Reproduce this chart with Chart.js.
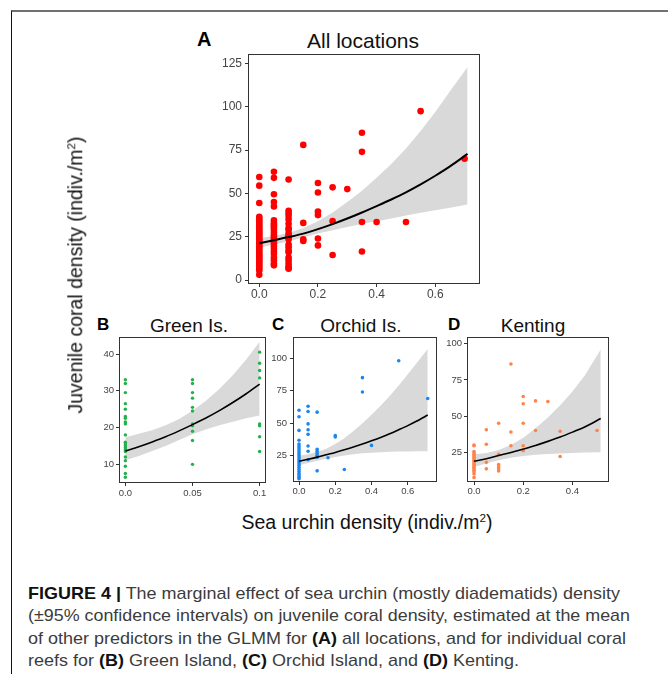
<!DOCTYPE html>
<html>
<head>
<meta charset="utf-8">
<script src="https://cdn.jsdelivr.net/npm/chart.js@4.4.0/dist/chart.umd.min.js"></script>
<style>
  body { margin: 0; background: #fff; }
  #page { position: relative; width: 668px; height: 674px; overflow: hidden; font-family: "Liberation Sans", Arial, sans-serif; }
  .frame { position: absolute; left: 11px; top: 10px; right: -4px; bottom: -4px; border-top: 2px solid #707070; border-left: 1px solid #111; }
  .panel { position: absolute; }
  .lab { position: absolute; transform: translate(-50%, -50%); line-height: 1; white-space: nowrap; color: #111; }
  .letter { position: absolute; transform: translateY(-50%); font-weight: bold; line-height: 1; color: #000; }
  .ytitle { position: absolute; left: 76px; top: 275px; transform: translate(-50%, -50%) rotate(-90deg); font-size: 19.5px; line-height: 1; white-space: nowrap; color: #111; }
  sup { font-size: 0.6em; vertical-align: 0; position: relative; top: -0.6em; }
  .cap { position: absolute; left: 28px; white-space: nowrap; font-family: "Liberation Sans Narrow", "Liberation Sans", Arial, sans-serif; font-size: 17px; line-height: 1; color: #3c3c3c; transform-origin: 0 50%; }
  .cap b { color: #111; }
</style>
</head>
<body>
<div id="page">
  <div class="frame"></div>

  <div class="letter" style="left:197px;top:39px;font-size:20px">A</div>
  <div class="lab" style="left:363px;top:40px;font-size:21px">All locations</div>
  <div class="letter" style="left:97px;top:324px;font-size:17px">B</div>
  <div class="lab" style="left:189px;top:325px;font-size:19px">Green Is.</div>
  <div class="letter" style="left:272px;top:324px;font-size:17px">C</div>
  <div class="lab" style="left:361px;top:325px;font-size:19px">Orchid Is.</div>
  <div class="letter" style="left:448px;top:324px;font-size:17px">D</div>
  <div class="lab" style="left:533px;top:325px;font-size:19px">Kenting</div>

  <div class="panel" id="pA"><canvas id="cA"></canvas></div>
  <div class="panel" id="pB"><canvas id="cB"></canvas></div>
  <div class="panel" id="pC"><canvas id="cC"></canvas></div>
  <div class="panel" id="pD"><canvas id="cD"></canvas></div>

  <div class="ytitle">Juvenile coral density (indiv./m<sup>2</sup>)</div>
  <div class="lab" style="left:367px;top:523px;font-size:19.5px">Sea urchin density (indiv./m<sup>2</sup>)</div>

  <div class="cap" style="top:585px"><b>FIGURE 4 |</b> The marginal effect of sea urchin (mostly diadematids) density</div>
  <div class="cap" style="top:607px">(±95% confidence intervals) on juvenile coral density, estimated at the mean</div>
  <div class="cap" style="top:630px">of other predictors in the GLMM for <b>(A)</b> all locations, and for individual coral</div>
  <div class="cap" style="top:652px">reefs for <b>(B)</b> Green Island, <b>(C)</b> Orchid Island, and <b>(D)</b> Kenting.</div>
</div>

<script>
// A - all locations
const aColX = [0, 0.05, 0.1, 0.15, 0.2, 0.25, 0.3, 0.35, 0.4, 0.5, 0.55, 0.7];
const aColY = [
  [59.5, 54.5, 44.5, 36.5, 35.5, 34.5, 33.5, 32.5, 31.5, 30.5, 29.5, 28.5, 27.5, 26.5, 25.5, 24.5, 23.5, 22.5, 21.5, 20.5, 19.5, 18.5, 17.5, 16.5, 15.5, 14.5, 13.5, 12.5, 11.5, 10.5, 9.5, 8.5, 7.5, 6.5, 5.5, 3],
  [62.5, 59, 49.5, 45, 42.5, 34.5, 33, 32, 31, 30, 29, 27.5, 26, 25, 24, 23, 22, 21, 19.5, 18, 16.5, 15, 13, 11.5, 9.5, 8.5],
  [58, 40, 38.5, 37, 35, 32.5, 30, 29, 27, 25.5, 25, 23.5, 20.5, 19, 17, 16, 13, 11.5, 9.5, 8, 7, 6.5],
  [78, 33, 23.5, 22.5],
  [56, 50.5, 39.5, 37.5, 24, 20],
  [53.5, 34, 14.5],
  [52.5],
  [85, 74, 33.5, 16.5],
  [33.5],
  [33.5],
  [97.5],
  [70]
];
const aFitX = [0, 0.05, 0.1, 0.15, 0.2, 0.25, 0.3, 0.35, 0.4, 0.45, 0.5, 0.55, 0.6, 0.65, 0.71];
const aFitY = [21.3, 23, 24.8, 26.8, 29.4, 32.3, 35.5, 39, 42.7, 46.5, 50.6, 55.2, 60.2, 65.6, 72.8];
const aUpper = [24.2, 25.5, 27.2, 30, 34, 39, 45, 51.5, 59, 67, 76, 86, 97, 109, 123];
const aLower = [18.6, 20.5, 22.3, 24.5, 26.8, 28.8, 30.6, 32.3, 34, 35.6, 37.2, 38.8, 40.3, 41.8, 43.6];
const aXTicks = [0, 0.2, 0.4, 0.6];
const aXLabels = ['0.0', '0.2', '0.4', '0.6'];
const aYTicks = [0, 25, 50, 75, 100, 125];

// B - Green Is.
const bColX = [0, 0.05, 0.1];
const bColY = [
  [33, 32, 29.5, 26.5, 25, 23, 22.5, 21.5, 21, 18, 16, 15.5, 15, 14.5, 14, 13.5, 12, 11, 9.5, 7.5, 6.5],
  [33, 32, 29.5, 28, 25.5, 24.5, 21, 20.5, 19, 16.5, 10],
  [40.5, 37.5, 35.5, 33.5, 21, 20.5, 17.5, 13.5]
];
const bFitX = [0, 0.01, 0.02, 0.03, 0.04, 0.05, 0.06, 0.07, 0.08, 0.09, 0.1];
const bFitY = [13.6, 14.8, 16.1, 17.5, 19.1, 20.8, 22.6, 24.6, 26.8, 29.2, 31.8];
const bUpper = [17.4, 18.3, 19.3, 20.6, 22.3, 24.6, 27.3, 30.5, 34.2, 38.5, 43.3];
const bLower = [11.1, 12.3, 13.6, 15, 16.6, 18.2, 19.5, 20.6, 21.6, 22.5, 23.3];
const bXTicks = [0, 0.05, 0.1];
const bXLabels = ['0.0', '0.05', '0.1'];
const bYTicks = [10, 20, 30, 40];

// C - Orchid Is.
const cColX = [0, 0.05, 0.1, 0.16, 0.2, 0.25, 0.35, 0.4, 0.55, 0.71];
const cColY = [
  [60, 55, 44.5, 37, 34, 32.5, 31, 29.5, 28, 26.5, 25, 23.5, 22, 20.5, 19, 17.5, 16, 14.5, 13, 11.5, 10, 8.5, 7.5],
  [63, 59, 49.5, 45, 41.5, 32.5, 28.5, 22],
  [58.5, 30, 28.5, 27, 25.5, 24, 13.5],
  [23.5],
  [40.5, 39.5],
  [14.5],
  [85, 74],
  [33],
  [98],
  [69]
];
const cFitX = [0, 0.05, 0.1, 0.15, 0.2, 0.25, 0.3, 0.35, 0.4, 0.45, 0.5, 0.55, 0.6, 0.65, 0.71];
const cFitY = [20.9, 22.4, 24, 25.8, 27.6, 29.6, 31.7, 34, 36.5, 39.1, 41.9, 45, 48.2, 51.7, 56.3];
const cUpper = [25, 26.3, 28, 30.5, 34, 38.5, 44, 50, 56.5, 63.5, 71, 79, 87.5, 96.5, 107];
const cLower = [17.8, 19.5, 21.2, 22.8, 24.2, 25.3, 26.2, 26.9, 27.4, 27.8, 28.1, 28.3, 28.4, 28.5, 28.6];
const cXTicks = [0, 0.2, 0.4, 0.6];
const cXLabels = ['0.0', '0.2', '0.4', '0.6'];
const cYTicks = [25, 50, 75, 100];

// D - Kenting
const dColX = [0, 0.05, 0.1, 0.15, 0.2, 0.25, 0.3, 0.35, 0.5];
const dColY = [
  [30, 29.5, 25.5, 24.5, 23.5, 22.5, 21.5, 20.5, 19.5, 18.5, 17.5, 16.5, 15.5, 14.5, 13.5, 12.5, 11.5, 10, 7.5],
  [40.5, 30.5, 18, 13.5],
  [45, 23.5, 16.5, 15, 13.5, 12],
  [86, 39, 29.5],
  [63.5, 58.5, 45, 29.5, 26],
  [60.5, 40],
  [60],
  [39.5, 22],
  [40]
];
const dFitX = [0, 0.05, 0.1, 0.15, 0.2, 0.25, 0.3, 0.35, 0.4, 0.45, 0.515];
const dFitY = [18.8, 20.5, 22.7, 24.8, 27.2, 29.7, 32.5, 35.5, 38.9, 42.5, 48.3];
const dUpper = [23.4, 24.5, 26.5, 30, 35, 41.5, 49, 57.5, 67, 78, 96];
const dLower = [14.8, 17.3, 19.5, 21.2, 22.4, 23.2, 23.8, 24.2, 24.5, 24.8, 25];
const dXTicks = [0, 0.2, 0.4];
const dXLabels = ['0.0', '0.2', '0.4'];
const dYTicks = [25, 50, 75, 100];

// outline round the plot area, like the ggplot panel border
const boxPlugin = {
  id: 'panelBox',
  afterDraw(chart) {
    const a = chart.chartArea;
    const ctx = chart.ctx;
    ctx.save();
    ctx.strokeStyle = '#333';
    ctx.lineWidth = 1;
    ctx.strokeRect(Math.round(a.left) - 0.5, Math.round(a.top) - 0.5, Math.round(a.right - a.left) + 1, Math.round(a.bottom - a.top) + 1);
    ctx.restore();
  }
};

function pairs(xs, ys) {
  return xs.map((x, i) => ({ x: x, y: ys[i] }));
}

function makePanel(p) {
  const m = p.margin;
  const w = m.left + (p.box.R - p.box.L) + m.right;
  const h = m.top + (p.box.B - p.box.T) + m.bottom;
  const div = document.getElementById(p.div);
  div.style.left = (p.box.L - m.left) + 'px';
  div.style.top = (p.box.T - m.top) + 'px';
  const cv = document.getElementById(p.canvas);
  cv.width = w;
  cv.height = h;

  const pts = [];
  p.colX.forEach((x, i) => p.colY[i].forEach(y => pts.push({ x: x, y: y })));

  const tickFont = { family: '"Liberation Sans", Arial, sans-serif', size: p.tickSize };
  const grid = { display: true, drawOnChartArea: false, drawTicks: true, tickLength: 4, color: '#333', lineWidth: 1 };

  return new Chart(cv, {
    type: 'scatter',
    data: {
      datasets: [
        { type: 'line', data: pairs(p.fitX, p.lower), borderColor: 'rgba(0,0,0,0)', borderWidth: 0, pointRadius: 0, fill: false, order: 3 },
        { type: 'line', data: pairs(p.fitX, p.upper), borderColor: 'rgba(0,0,0,0)', borderWidth: 0, pointRadius: 0, fill: '-1', backgroundColor: '#d9d9d9', order: 2 },
        { data: pts, backgroundColor: p.color, borderWidth: 0, pointRadius: p.radius, order: 1 },
        { type: 'line', data: pairs(p.fitX, p.fitY), borderColor: '#000', borderWidth: p.lineWidth, pointRadius: 0, fill: false, tension: 0.3, order: 0 }
      ]
    },
    options: {
      responsive: false,
      animation: false,
      devicePixelRatio: 1,
      layout: { padding: { left: 0, top: m.top, right: m.right, bottom: 0 } },
      plugins: { legend: { display: false }, tooltip: { enabled: false } },
      scales: {
        x: {
          type: 'linear', min: p.xMin, max: p.xMax,
          grid: grid, border: { display: false },
          afterBuildTicks: s => { s.ticks = p.xTicks.map(v => ({ value: v })); },
          afterFit: s => { s.height = m.bottom; },
          ticks: { font: tickFont, color: '#444', padding: p.xPad, maxRotation: 0, autoSkip: false,
            callback: (v, i) => p.xLabels[i] }
        },
        y: {
          type: 'linear', min: p.yMin, max: p.yMax,
          grid: grid, border: { display: false },
          afterBuildTicks: s => { s.ticks = p.yTicks.map(v => ({ value: v })); },
          afterFit: s => { s.width = m.left; },
          ticks: { font: tickFont, color: '#444', padding: p.yPad, autoSkip: false }
        }
      }
    },
    plugins: [boxPlugin]
  });
}

makePanel({
  div: 'pA', canvas: 'cA', box: { L: 249, T: 55, R: 479, B: 283 },
  margin: { left: 46, top: 16, right: 14, bottom: 26 },
  xMin: -0.035, xMax: 0.749, yMin: -1.7, yMax: 129.9,
  colX: aColX, colY: aColY, fitX: aFitX, fitY: aFitY, upper: aUpper, lower: aLower,
  xTicks: aXTicks, xLabels: aXLabels, yTicks: aYTicks,
  color: '#ff0000', radius: 3.3, lineWidth: 2, tickSize: 12, xPad: 0, yPad: 3
});
makePanel({
  div: 'pB', canvas: 'cB', box: { L: 120, T: 338, R: 265, B: 482 },
  margin: { left: 34, top: 12, right: 12, bottom: 20 },
  xMin: -0.004, xMax: 0.104, yMin: 5.2, yMax: 44.35,
  colX: bColX, colY: bColY, fitX: bFitX, fitY: bFitY, upper: bUpper, lower: bLower,
  xTicks: bXTicks, xLabels: bXLabels, yTicks: bYTicks,
  color: '#22b04a', radius: 1.7, lineWidth: 1.6, tickSize: 9.5, xPad: 1.5, yPad: 2
});
makePanel({
  div: 'pC', canvas: 'cC', box: { L: 294, T: 338, R: 436, B: 481 },
  margin: { left: 34, top: 12, right: 12, bottom: 20 },
  xMin: -0.0277, xMax: 0.7557, yMin: 5.7, yMax: 115.4,
  colX: cColX, colY: cColY, fitX: cFitX, fitY: cFitY, upper: cUpper, lower: cLower,
  xTicks: cXTicks, xLabels: cXLabels, yTicks: cYTicks,
  color: '#1c86ee', radius: 1.8, lineWidth: 1.6, tickSize: 9.5, xPad: 0.5, yPad: 3
});
makePanel({
  div: 'pD', canvas: 'cD', box: { L: 468, T: 338, R: 608, B: 481 },
  margin: { left: 34, top: 12, right: 12, bottom: 20 },
  xMin: -0.0245, xMax: 0.5445, yMin: 5.1, yMax: 104,
  colX: dColX, colY: dColY, fitX: dFitX, fitY: dFitY, upper: dUpper, lower: dLower,
  xTicks: dXTicks, xLabels: dXLabels, yTicks: dYTicks,
  color: '#ff8247', radius: 1.8, lineWidth: 1.6, tickSize: 9.5, xPad: 0.5, yPad: 2
});

// stretch the caption lines to the measured line lengths
const capWidths = [592, 602, 598];
let k = 1;
document.querySelectorAll('.cap').forEach((el, i) => {
  const w = el.getBoundingClientRect().width;
  if (i < capWidths.length) k = capWidths[i] / w;
  el.style.transform = 'scaleX(' + k + ')';
});
</script>
</body>
</html>
